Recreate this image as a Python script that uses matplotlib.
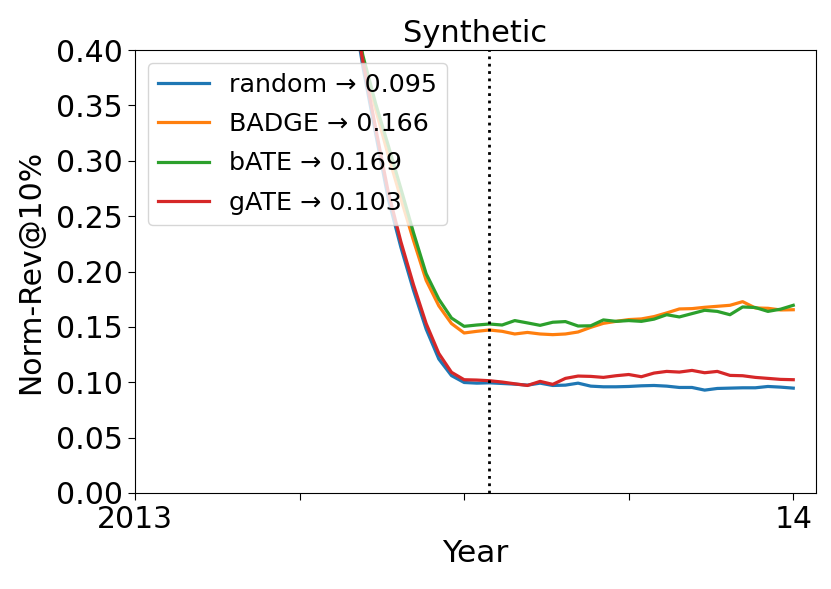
import matplotlib
matplotlib.use("Agg")
import matplotlib.pyplot as plt

weeks = list(range(17, 53))

random_vals = [0.455, 0.385, 0.325, 0.266, 0.222, 0.183, 0.148, 0.121, 0.106,
               0.0998, 0.0992, 0.0995, 0.0989, 0.0983, 0.0974, 0.0992, 0.0971, 0.0974,
               0.0992, 0.0965, 0.0959, 0.0959, 0.0962, 0.0968, 0.0971, 0.0965, 0.0953,
               0.0953, 0.0929, 0.0944, 0.0947, 0.0950, 0.0950, 0.0962, 0.0956, 0.0947]
badge_vals = [0.455, 0.392, 0.347, 0.305, 0.266, 0.228, 0.192, 0.169, 0.153,
              0.1445, 0.1460, 0.1472, 0.1460, 0.1436, 0.1450, 0.1436, 0.1430, 0.1436,
              0.1454, 0.1496, 0.1532, 0.1550, 0.1566, 0.1572, 0.1593, 0.1626, 0.1662,
              0.1665, 0.1677, 0.1686, 0.1695, 0.1728, 0.1671, 0.1668, 0.1653, 0.1655]
bate_vals = [0.455, 0.395, 0.352, 0.314, 0.275, 0.235, 0.198, 0.175, 0.158,
             0.1505, 0.1517, 0.1526, 0.1517, 0.1557, 0.1536, 0.1514, 0.1542, 0.1548,
             0.1508, 0.1510, 0.1563, 0.1550, 0.1557, 0.1550, 0.1570, 0.1610, 0.1590,
             0.1620, 0.1650, 0.1640, 0.1610, 0.1680, 0.1675, 0.1640, 0.1660, 0.1695]
gate_vals = [0.455, 0.390, 0.330, 0.272, 0.227, 0.188, 0.153, 0.126, 0.109,
             0.1023, 0.1020, 0.1014, 0.1002, 0.0986, 0.0971, 0.1008, 0.0981, 0.1035,
             0.1056, 0.1053, 0.1044, 0.1059, 0.1070, 0.1050, 0.1083, 0.1098, 0.1092,
             0.1107, 0.1086, 0.1098, 0.1062, 0.1059, 0.1044, 0.1035, 0.1026, 0.1023]

series_names = ["random \u2192 0.095", "BADGE \u2192 0.166", "bATE \u2192 0.169", "gATE \u2192 0.103"]
series_colors = ["#1f77b4", "#ff7f0e", "#2ca02c", "#d62728"]
x_ticks = [0, 13, 26, 39, 52]
x_ticklabels = ["2013", "", "", "", "14"]
y_ticks = [0, 0.05, 0.10, 0.15, 0.20, 0.25, 0.30, 0.35, 0.40]
y_ticklabels = ["0.00", "0.05", "0.10", "0.15", "0.20", "0.25", "0.30", "0.35", "0.40"]
vline_week = 28

fig = plt.figure(figsize=(8.31, 5.89), dpi=100)
ax = fig.add_axes([0.1625, 0.163, 0.8195, 0.752])

for vals, name, col in zip([random_vals, badge_vals, bate_vals, gate_vals], series_names, series_colors):
    ax.plot(weeks, vals, color=col, lw=2.3, label=name)

ax.axvline(vline_week, color="black", ls=":", lw=2)

ax.set_xlim(0, 53.8)
ax.set_ylim(0, 0.40)
ax.set_xticks(x_ticks)
ax.set_xticklabels(x_ticklabels)
ax.set_yticks(y_ticks)
ax.set_yticklabels(y_ticklabels)
ax.tick_params(labelsize=21.5, length=5)
ax.set_xlabel("Year", fontsize=22.5)
ax.set_ylabel("Norm-Rev@10%", fontsize=21.5, labelpad=8)
ax.set_title("Synthetic", fontsize=22)
ax.legend(loc="upper left", fontsize=18.3, labelspacing=0.6)

fig.savefig("out.png", dpi=100)
